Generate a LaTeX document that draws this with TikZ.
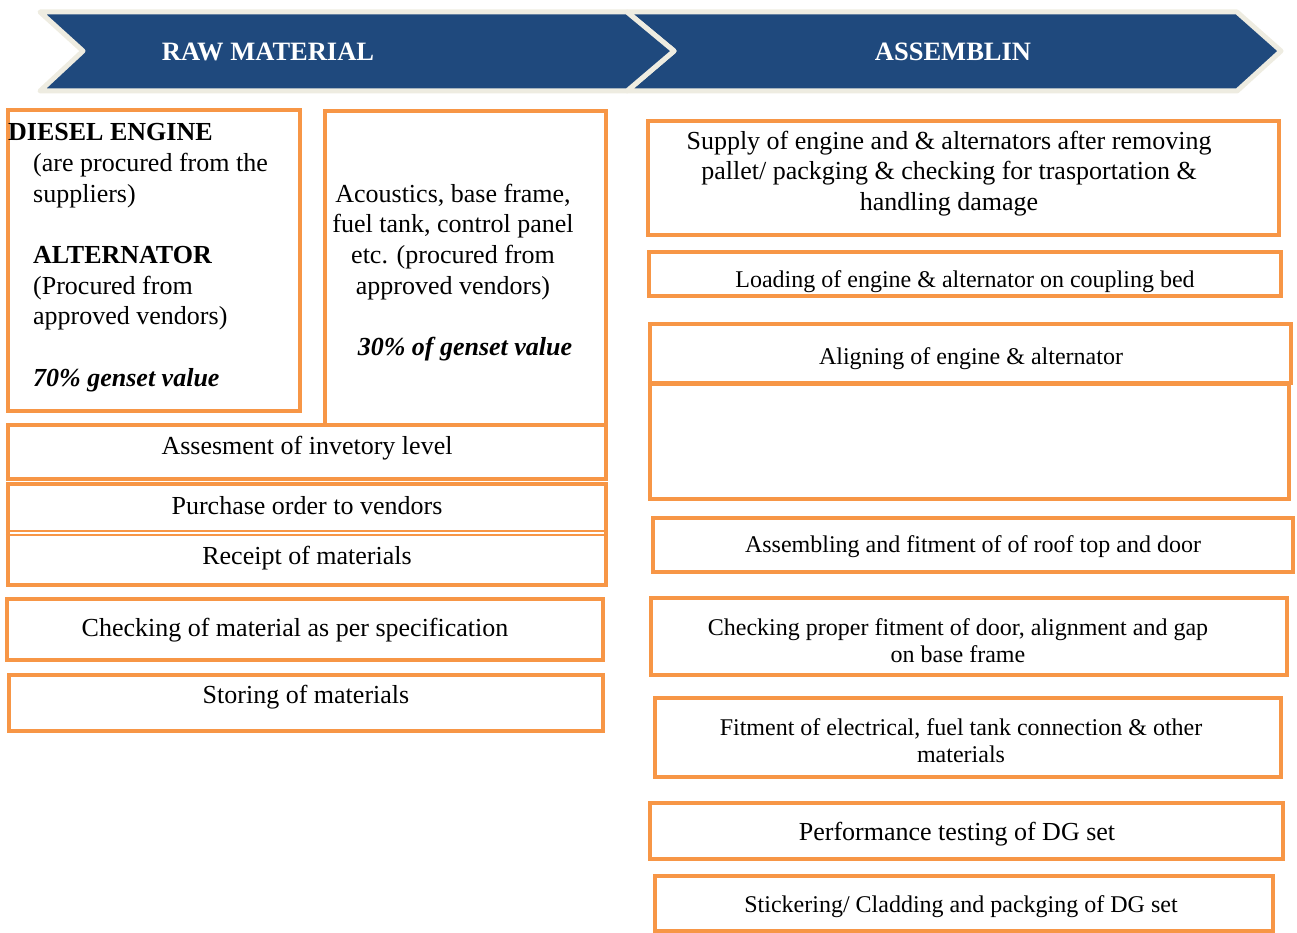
\documentclass[tikz,border=0pt]{standalone}
\usepackage{fontspec}
\setmainfont{Liberation Serif}
\usetikzlibrary{calc}
\usetikzlibrary{fit}
\definecolor{boxorange}{HTML}{F79646}
\definecolor{bandblue}{HTML}{1F497D}
\definecolor{bandrim}{HTML}{EEECE1}
\tikzstyle{band} = [draw=bandrim, line width=5pt, fill=bandblue, line join=round]
\tikzstyle{bandtext} = [text=white, inner sep=0pt, font=\fontsize{26.5}{30}\selectfont\bfseries]
\tikzstyle{stepbox} = [draw=boxorange, line width=4.5pt, inner sep=0pt]
\tikzstyle{bigtext} = [inner sep=0pt, yshift=-2.5pt, align=center, font=\fontsize{26}{30.7}\selectfont]
\tikzstyle{smalltext} = [inner sep=0pt, yshift=-2.5pt, align=center, font=\fontsize{24}{27.5}\selectfont]

\begin{document}
\begin{tikzpicture}[x=1pt, y=-1pt]
    \useasboundingbox (0,0) rectangle (1297,933);

    % header chevrons
    \draw[band] (627,12) -- (1237,12) -- (1281,51) -- (1237,91) -- (627,91) -- (674,51) -- cycle;
    \draw[band] (40,12) -- (627,12) -- (674,51) -- (627,91) -- (40,91) -- (83,51) -- cycle;
    \node[bandtext] (raw_title) at (268,52) {RAW MATERIAL};
    \node[bandtext] (asm_title) at (953,52) {ASSEMBLIN};

    % raw material side
    \node[stepbox, fit={(8,110) (300,411)}] (raw_engine) {};
    \node[stepbox, fit={(325,111) (606,425)}] (raw_parts) {};
    \node[stepbox, fit={(8,425) (606,479)}] (raw_assess) {};
    \node[stepbox, fit={(8,484) (606,585)}] (raw_order) {};
    \node[stepbox, fit={(7,599) (603,660)}] (raw_check) {};
    \node[stepbox, fit={(9,675) (603,731)}] (raw_store) {};
    \draw[boxorange, line width=1.5pt] ($(raw_order.north west)+(0,49)$) -- ($(raw_order.north east)+(0,49)$);
    \draw[boxorange, line width=1.5pt] ($(raw_order.north west)+(0,53)$) -- ($(raw_order.north east)+(0,53)$);

    \node[bigtext, anchor=base west] (engine_head) at (8,138) {\textbf{DIESEL ENGINE}};
    \node[bigtext, align=left, anchor=west] (engine_text) at (33,270) {(are procured from the\\suppliers)\\[30.7pt]\textbf{ALTERNATOR}\\(Procured from\\approved vendors)\\[30.7pt]\textbf{\textit{70\% genset value}}};
    \node[bigtext] (parts_text) at (453,270) {Acoustics, base frame,\\fuel tank, control panel\\etc. (procured from\\approved vendors)\\[30.7pt]\hspace*{24pt}\textbf{\textit{30\% of genset value}}};
    \node[bigtext] (assess_text) at (307,446) {Assesment of invetory level};
    \node[bigtext] (order_text) at (307,503) {Purchase order to vendors};
    \node[bigtext] (receipt_text) at (307,556) {Receipt of materials};
    \node[bigtext] (check_text) at (295,628) {Checking of material as per specification};
    \node[bigtext] (store_text) at (306,695) {Storing of materials};

    % assembling side
    \node[stepbox, fit={(648,121) (1279,235)}] (asm_supply) {};
    \node[stepbox, fit={(649,252) (1281,296)}] (asm_load) {};
    \node[stepbox, fit={(650,324) (1291,383)}] (asm_align) {};
    \node[stepbox, fit={(650,384) (1289,499)}] (asm_blank) {};
    \node[stepbox, fit={(653,518) (1293,572)}] (asm_roof) {};
    \node[stepbox, fit={(651,598) (1287,675)}] (asm_door) {};
    \node[stepbox, fit={(655,698) (1281,777)}] (asm_elec) {};
    \node[stepbox, fit={(650,803) (1283,859)}] (asm_test) {};
    \node[stepbox, fit={(655,876) (1273,931)}] (asm_pack) {};
    \draw[boxorange, line width=4pt] ($(asm_blank.north west)+(0,2)$) -- ($(asm_blank.north west)+(111,2)$);

    \node[bigtext] (supply_text) at (949,171) {Supply of engine and \& alternators after removing\\pallet/ packging \& checking for trasportation \&\\handling damage};
    \node[smalltext] (load_text) at (965,279) {Loading of engine \& alternator on coupling bed};
    \node[smalltext] (align_text) at (971,356) {Aligning of engine \& alternator};
    \node[smalltext] (roof_text) at (973,544) {Assembling and fitment of of roof top and door};
    \node[smalltext] (door_text) at (958,638) {Checking proper fitment of door, alignment and gap\\on base frame};
    \node[smalltext] (elec_text) at (961,738) {Fitment of electrical, fuel tank connection \& other\\materials};
    \node[bigtext] (test_text) at (957,832) {Performance testing of DG set};
    \node[smalltext] (pack_text) at (961,904) {Stickering/ Cladding and packging of DG set};
\end{tikzpicture}
\end{document}
